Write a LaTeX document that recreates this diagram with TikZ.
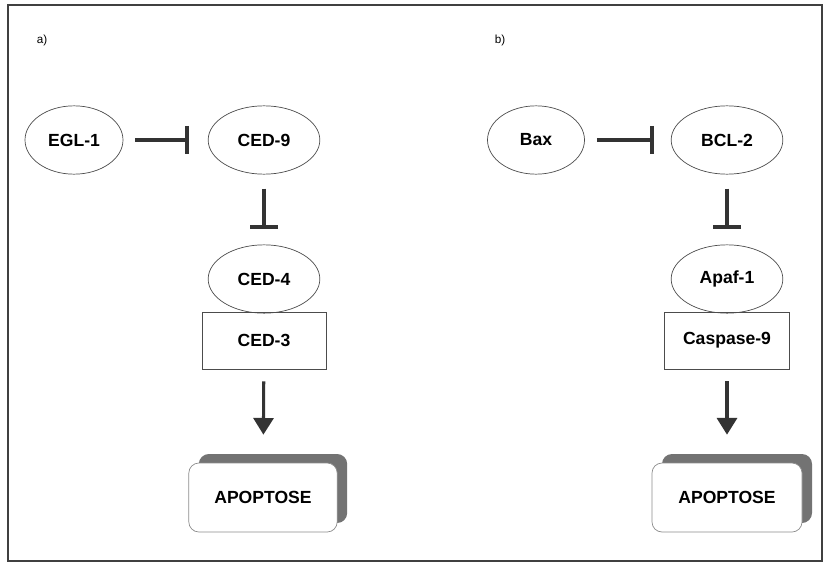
\documentclass[tikz,border=0pt]{standalone}
\usepackage{fontspec}
\setmainfont{Liberation Sans}
\usetikzlibrary{arrows.meta, shapes.geometric, shadows}

\begin{document}
\begin{tikzpicture}[
        prot/.style={ellipse, draw=black!70, line width=0.6pt, minimum width=3.35cm, minimum height=2.05cm,
            inner sep=0pt, font=\fontsize{15}{17}\selectfont\bfseries},
        enzyme/.style={rectangle, draw=black!70, line width=0.6pt, minimum width=3.75cm, minimum height=1.71cm,
            font=\fontsize{15}{17}\selectfont\bfseries},
        fate/.style={rectangle, rounded corners=0.3cm, draw=black!45, line width=0.6pt, fill=white,
            minimum width=4.45cm, minimum height=2.07cm, font=\fontsize{15}{17}\selectfont\bfseries,
            copy shadow={shadow xshift=0.3cm, shadow yshift=0.27cm, fill=black!55, draw=none}},
        inhib/.style={draw=black!80, line width=2.6pt, -{Bar[width=0.85cm, line width=3.6pt]}},
        act/.style={draw=black!80, line width=2.6pt, -{Triangle[width=0.6cm, length=0.5cm]}},
        panel/.style={font=\fontsize{10}{12}\selectfont}
    ]
            \useasboundingbox (0,0) rectangle (24.75,-16.89);
            \draw[black!75, line width=1.5pt] (0.24,-0.15) rectangle (24.66,-16.83);

            \node[panel] (pa) at (1.26,-1.2) {a)};
            \node[panel] (pb) at (15.0,-1.2) {b)};

            \node[prot, minimum width=2.94cm] (egl) at (2.22,-4.2) {EGL-1};
            \node[prot] (ced9) at (7.92,-4.2) {CED-9};
            \node[prot] (ced4) at (7.92,-8.37) {CED-4};
            \node[enzyme, minimum width=3.72cm] (ced3) at (7.92,-10.215) {CED-3};
            \node[fate] (apoa) at (7.89,-14.925) {APOPTOSE};

            \node[prot, minimum width=2.91cm] (bax) at (16.08,-4.2) {Bax};
            \node[prot] (bcl) at (21.81,-4.2) {BCL-2};
            \node[prot] (apaf) at (21.81,-8.37) {Apaf-1};
            \node[enzyme] (casp) at (21.81,-10.215) {Caspase-9};
            \node[fate, minimum width=4.5cm] (apob) at (21.81,-14.925) {APOPTOSE};

            \draw[inhib, shorten <=0.36cm, shorten >=0.55cm] (egl) -- (ced9);
            \draw[inhib, shorten <=0.42cm, shorten >=0.45cm] (ced9) -- (ced4);
            \draw[act, shorten <=0.36cm, shorten >=0.84cm] (ced3) -- (apoa);

            \draw[inhib, shorten <=0.36cm, shorten >=0.5cm] (bax) -- (bcl);
            \draw[inhib, shorten <=0.42cm, shorten >=0.45cm] (bcl) -- (apaf);
            \draw[act, shorten <=0.36cm, shorten >=0.84cm] (casp) -- (apob);
        \end{tikzpicture}
\end{document}
